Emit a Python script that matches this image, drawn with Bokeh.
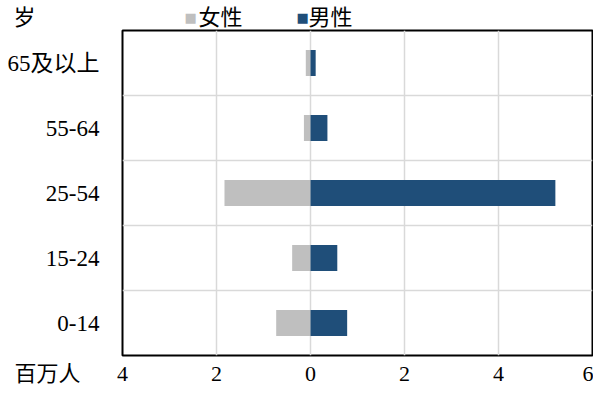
from bokeh.plotting import figure
from bokeh.models import Range1d, FixedTicker, Title, ColumnDataSource
from bokeh.embed import file_html
from bokeh.resources import INLINE

categories = ["0-14", "15-24", "25-54", "55-64", "65及以上"]
female = [0.73, 0.39, 1.83, 0.14, 0.10]
male = [0.78, 0.57, 5.21, 0.36, 0.11]
x_ticks = [-4, -2, 0, 2, 4, 6]
x_tick_labels = ["4", "2", "0", "2", "4", "6"]
series_names = ["女性", "男性"]
y_unit = "岁"
x_unit = "百万人"

FONT = "Liberation Serif, Noto Sans CJK SC"
GRAY = "#BFBFBF"
BLUE = "#1F4E79"

ypos = list(range(len(categories)))
src = ColumnDataSource(dict(
    y=ypos,
    f_left=[-v for v in female],
    zero=[0] * len(categories),
    m_right=male,
))

p = figure(width=593, height=386, output_backend="svg", toolbar_location=None,
           x_range=Range1d(-4, 6), y_range=Range1d(-0.5, len(categories) - 0.5),
           min_border_left=122, min_border_right=1, min_border_top=30, min_border_bottom=30)

p.hbar(y="y", left="f_left", right="zero", height=0.4, source=src,
       fill_color=GRAY, line_color=None)
p.hbar(y="y", left="zero", right="m_right", height=0.4, source=src,
       fill_color=BLUE, line_color=None)

p.outline_line_color = "black"
p.outline_line_width = 2
p.background_fill_color = "white"
p.border_fill_color = "white"

p.xaxis.ticker = FixedTicker(ticks=x_ticks)
p.xaxis.major_label_overrides = {t: l for t, l in zip(x_ticks, x_tick_labels)}
p.xaxis.axis_line_color = None
p.xaxis.major_tick_line_color = None
p.xaxis.minor_tick_line_color = None
p.xaxis.major_label_text_font = FONT
p.xaxis.major_label_text_font_size = "22px"
p.xaxis.major_label_text_color = "black"
p.xaxis.major_label_standoff = 5

p.yaxis.ticker = FixedTicker(ticks=ypos)
p.yaxis.major_label_overrides = {i: c for i, c in enumerate(categories)}
p.yaxis.axis_line_color = None
p.yaxis.major_tick_line_color = None
p.yaxis.minor_tick_line_color = None
p.yaxis.major_label_text_font = FONT
p.yaxis.major_label_text_font_size = "23px"
p.yaxis.major_label_text_color = "black"
p.yaxis.major_label_standoff = 17

p.xgrid.ticker = FixedTicker(ticks=[-2, 0, 2, 4])
p.xgrid.grid_line_color = "#D9D9D9"
p.xgrid.grid_line_width = 1.5
p.ygrid.ticker = FixedTicker(ticks=[i + 0.5 for i in ypos[:-1]])
p.ygrid.grid_line_color = "#D9D9D9"
p.ygrid.grid_line_width = 1.5


def flat_title(text, offset, size, color="black", font=FONT, side="above",
               extra=0.0, line_height=1.2):
    # (nearly) zero-height title so that several texts can share one row outside the frame
    t = Title(text=text, align="left", offset=offset, vertical_align="bottom",
              standoff=-(2 + 1.12 * size) + extra, text_font=font,
              text_font_size=f"{size}px", text_font_style="normal", text_color=color,
              text_line_height=line_height)
    p.add_layout(t, side)


# spacer next to the frame that lifts the row of texts above it
flat_title(" ", 0, 22, extra=14)
# legend row above the frame
flat_title("■", 62, 13, color=GRAY, font="DejaVu Sans")
flat_title(series_names[0], 76, 22)
flat_title("■", 174, 13, color=BLUE, font="DejaVu Sans")
flat_title(series_names[1], 186, 22)
# unit labels
flat_title(y_unit, -109, 22)
flat_title(x_unit + "\n", -108, 22, side="below", extra=-22, line_height=1.0)

open("out.html", "w").write(file_html(p, INLINE))
